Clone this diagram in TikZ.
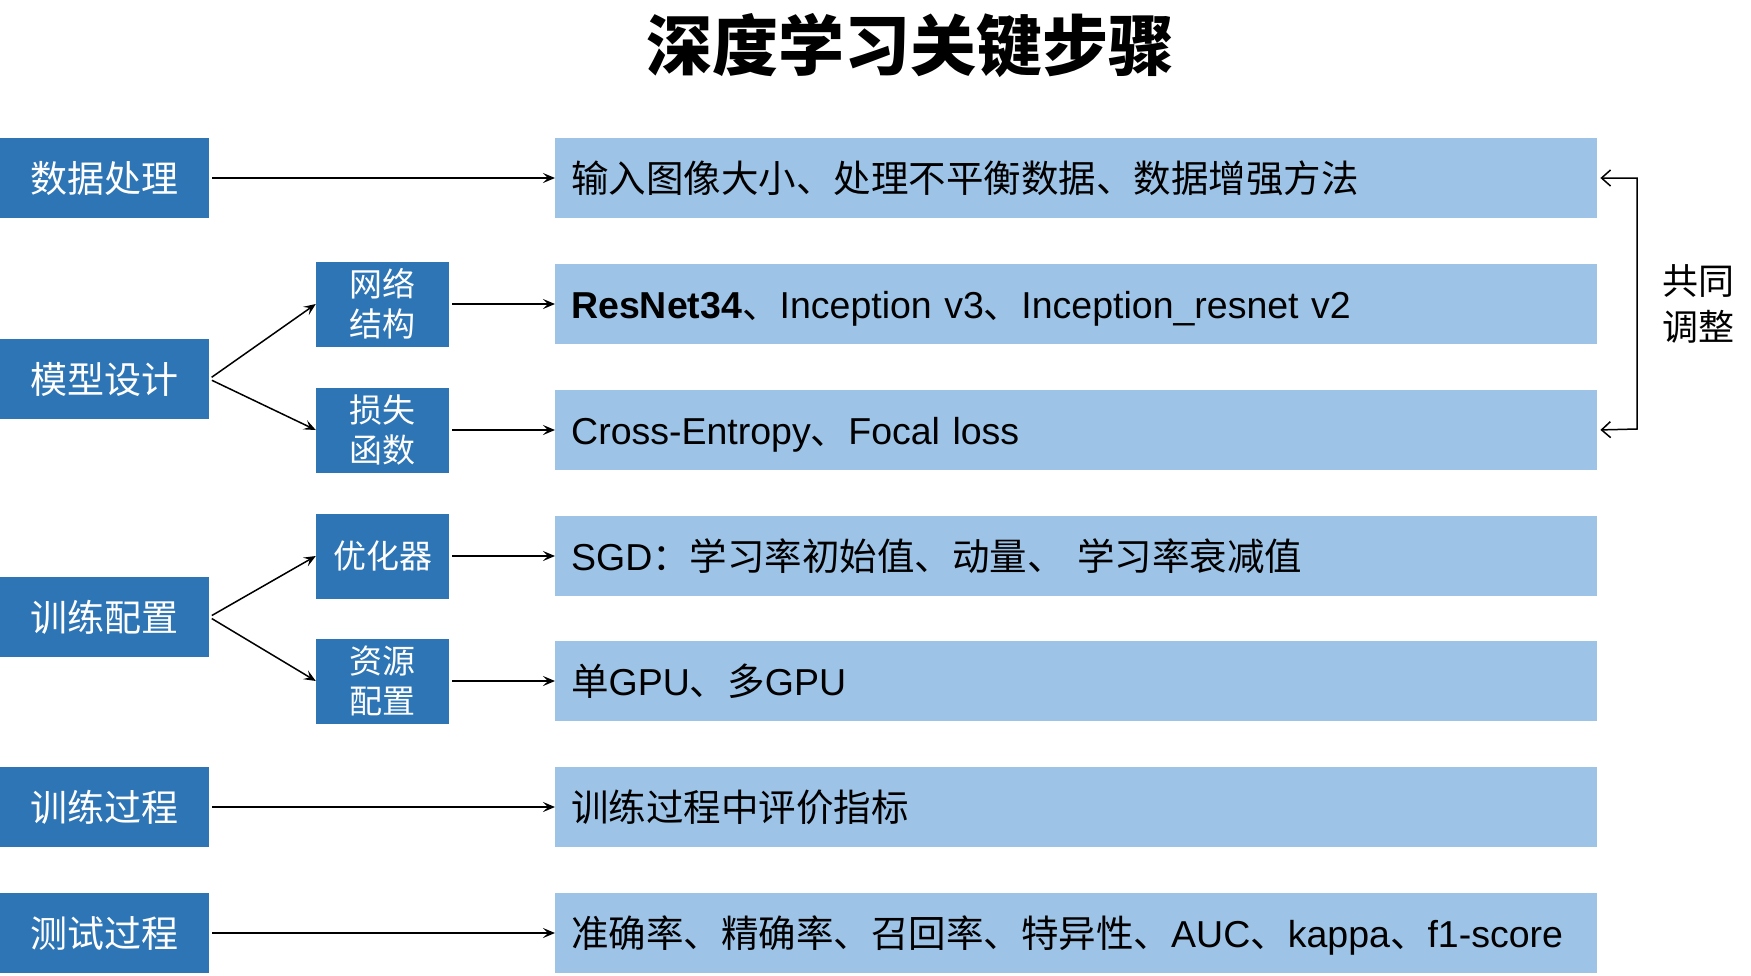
\documentclass[tikz,border=0pt]{standalone}
\usepackage{fontspec}
\setmainfont{Liberation Sans}
\newfontfamily\cjk{Noto Sans CJK SC}
\newfontfamily\titlefont{Noto Sans CJK SC}
\usetikzlibrary{arrows.meta,positioning}
\newcommand\zh[1]{{\cjk #1}}
\definecolor{darkbox}{RGB}{46,117,182}
\definecolor{lightbox}{RGB}{157,195,230}
\begin{document}
\begin{tikzpicture}[x=1pt,y=-1pt,
  leftbox/.style={fill=darkbox,text=white,minimum width=209pt,minimum height=80pt,inner sep=0pt,font=\cjk\fontsize{37}{44}\selectfont},
  subbox/.style={fill=darkbox,text=white,minimum width=133pt,minimum height=85pt,inner sep=0pt,align=center,font=\cjk\fontsize{33}{40}\selectfont},
  infobox/.style={fill=lightbox,text=black,minimum width=1042pt,minimum height=80pt,inner xsep=16pt,inner ysep=0pt,text width=1010pt,align=left,anchor=west,text height=31pt,text depth=3pt,font=\fontsize{37.5}{44}\selectfont},
  conn/.style={line width=1.5pt,-{Stealth[length=12pt,width=10pt,inset=5pt]}},
  brk/.style={line width=1.5pt,{Straight Barb[length=9pt,width=16pt,line width=1.5pt]}-{Straight Barb[length=9pt,width=16pt,line width=1.5pt]}}
]
\useasboundingbox (0,0) rectangle (1751,975);
\node[font=\titlefont\bfseries\fontsize{66}{72}\selectfont] (title) at (910,46) {深度学习关键步骤};

% left boxes
\node[leftbox] (data) at (104.5,178) {数据处理};
\node[leftbox] (model) at (104.5,379) {模型设计};
\node[leftbox] (cfg) at (104.5,617) {训练配置};
\node[leftbox] (trainp) at (104.5,807) {训练过程};
\node[leftbox] (testp) at (104.5,933) {测试过程};

% sub boxes
\node[subbox] (net) at (382.5,304) {网络\\结构};
\node[subbox] (loss) at (382.5,430) {损失\\函数};
\node[subbox] (opt) at (382.5,556) {优化器};
\node[subbox] (res) at (382.5,681) {资源\\配置};

% info boxes
\node[infobox] (i1) at (555,178) {\zh{输入图像大小、处理不平衡数据、数据增强方法}};
\node[infobox] (i2) at (555,304) {\textbf{ResNet34}\zh{、}Inception v3\zh{、}Inception\_resnet v2};
\node[infobox] (i3) at (555,430) {Cross-Entropy\zh{、}Focal loss};
\node[infobox] (i4) at (555,556) {SGD\zh{：学习率初始值、动量、 学习率衰减值}};
\node[infobox] (i5) at (555,681) {\zh{单}GPU\zh{、多}GPU};
\node[infobox] (i6) at (555,807) {\zh{训练过程中评价指标}};
\node[infobox] (i7) at (555,933) {\zh{准确率、精确率、召回率、特异性、}AUC\zh{、}kappa\zh{、}f1-score};

% connectors
\draw[conn,shorten <=3pt] (data.east) -- (i1.west);
\draw[conn,shorten <=3pt] (model.east) -- (net.west);
\draw[conn,shorten <=3pt] (model.east) -- (loss.west);
\draw[conn,shorten <=3pt] (cfg.east) -- (opt.west);
\draw[conn,shorten <=3pt] (cfg.east) -- (res.west);
\draw[conn,shorten <=3pt] (net.east) -- (i2.west);
\draw[conn,shorten <=3pt] (loss.east) -- (i3.west);
\draw[conn,shorten <=3pt] (opt.east) -- (i4.west);
\draw[conn,shorten <=3pt] (res.east) -- (i5.west);
\draw[conn,shorten <=3pt] (trainp.east) -- (i6.west);
\draw[conn,shorten <=3pt] (testp.east) -- (i7.west);

% bracket
\coordinate (bt) at (1637,178);
\coordinate (bb) at (1637,429);
\draw[brk,shorten <=3pt,shorten >=3pt] (i1.east) -- (bt) -- (bb) -- (i3.east);
\node[font=\cjk\fontsize{36}{46}\selectfont,align=center,inner sep=0pt] (adj) at (1698,304) {共同\\调整};
\end{tikzpicture}
\end{document}
